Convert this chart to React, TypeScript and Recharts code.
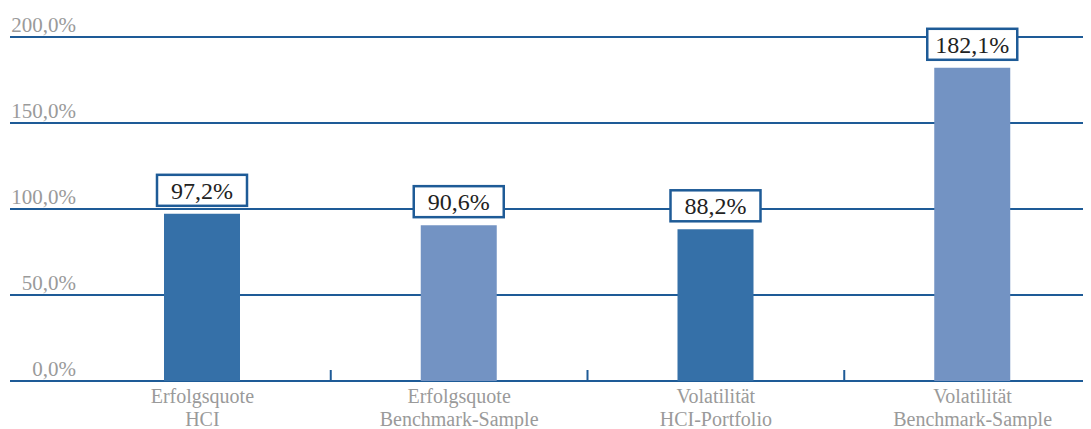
import React from 'react';
import { BarChart, Bar, XAxis, YAxis, CartesianGrid, Cell, LabelList } from 'recharts';

const categoryTop = ['Erfolgsquote', 'Erfolgsquote', 'Volatilität', 'Volatilität'];
const categoryBottom = ['HCI', 'Benchmark-Sample', 'HCI-Portfolio', 'Benchmark-Sample'];
const values = [97.2, 90.6, 88.2, 182.1];
const barColors = ['#3570a8', '#7393c3', '#3570a8', '#7393c3'];
const yTicks = [0, 50, 100, 150, 200];

const data = values.map((v, i) => ({ name: `${categoryTop[i]} ${categoryBottom[i]}`, value: v }));

const CHART_W = 1093;
const CHART_H = 421;
const MARGIN = { top: 29, right: 0, bottom: 0, left: 2 };
const PAD_LEFT = 64;
const X_AXIS_H = 48;

const LINE_COLOR = '#1e5b97';
const GRAY = '#9a9a9a';
const FONT = "'Liberation Serif', serif";

const bandWidth = (CHART_W - MARGIN.left - MARGIN.right - PAD_LEFT) / values.length;

const fmt = (v: number) => v.toFixed(1).replace('.', ',') + '%';

const YTick = (props: any) => {
  const { y, payload } = props;
  return (
    <text x={MARGIN.left + 66} y={y - 5} textAnchor="end" fill={GRAY} fontFamily={FONT} style={{ fontFamily: FONT, fontSize: 21 }}>
      {fmt(payload.value)}
    </text>
  );
};

const XTick = (props: any) => {
  const { x, y, index } = props;
  const last = index === values.length - 1;
  return (
    <g>
      {!last && (
        <line x1={x + bandWidth / 2} x2={x + bandWidth / 2} y1={y} y2={y - 11} stroke={LINE_COLOR} strokeWidth={2} />
      )}
      <text x={x} y={y + 22} textAnchor="middle" fill={GRAY} fontFamily={FONT} style={{ fontFamily: FONT, fontSize: 20 }}>
        <tspan x={x}>{categoryTop[index]}</tspan>
        <tspan x={x} dy={22.5}>{categoryBottom[index]}</tspan>
      </text>
    </g>
  );
};

const ValueBox = (props: any) => {
  const { x, y, width, value } = props;
  const cx = x + width / 2;
  const bw = 90;
  const bh = 31;
  const top = y - 8 - bh;
  return (
    <g>
      <rect x={cx - bw / 2} y={top} width={bw} height={bh} fill="#ffffff" stroke={LINE_COLOR} strokeWidth={2.5} />
      <text x={cx} y={top + bh - 7} textAnchor="middle" fill="#222222" fontFamily={FONT} style={{ fontFamily: FONT, fontSize: 24 }}>
        {fmt(value)}
      </text>
    </g>
  );
};

export default function App() {
  return (
    <div style={{ width: 1083, height: CHART_H, overflow: 'hidden' }}>
      <BarChart width={CHART_W} height={CHART_H} data={data} margin={MARGIN}>
        <CartesianGrid horizontal vertical={false} stroke={LINE_COLOR} strokeWidth={2} />
        <XAxis
          dataKey="name"
          axisLine={false}
          tickLine={false}
          tickSize={0}
          tickMargin={0}
          height={X_AXIS_H}
          padding={{ left: PAD_LEFT, right: 0 }}
          interval={0}
          tick={<XTick />}
        />
        <YAxis
          domain={[0, 200]}
          ticks={yTicks}
          width={60}
          mirror
          axisLine={false}
          tickLine={false}
          tickSize={0}
          tickMargin={0}
          tick={<YTick />}
        />
        <Bar dataKey="value" barSize={76} isAnimationActive={false}>
          {data.map((d, i) => (
            <Cell key={i} fill={barColors[i]} />
          ))}
          <LabelList dataKey="value" content={<ValueBox />} />
        </Bar>
      </BarChart>
    </div>
  );
}
